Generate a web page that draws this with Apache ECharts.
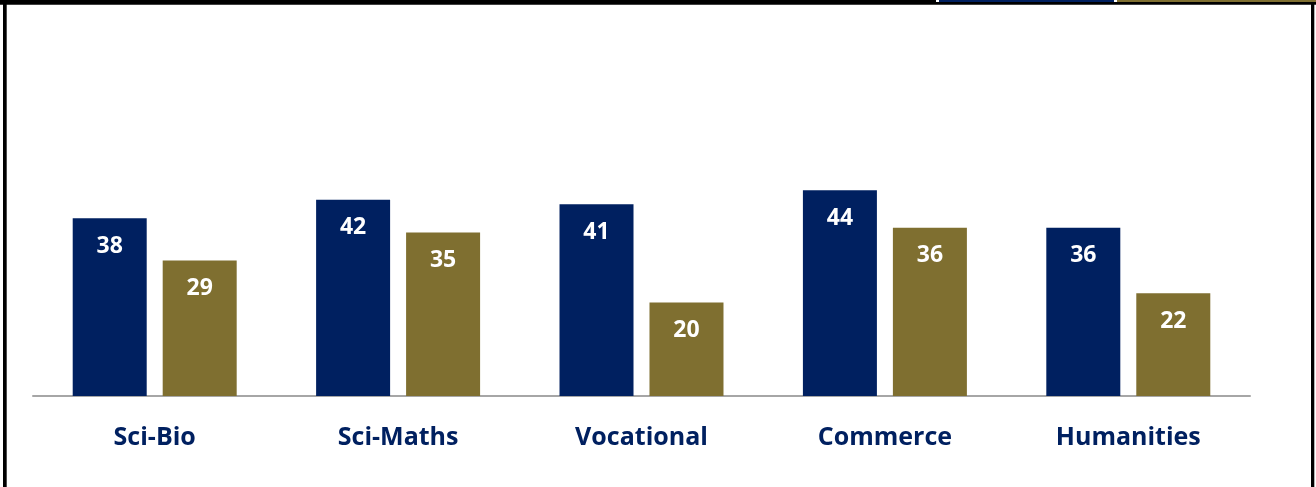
<!DOCTYPE html>
<html>
<head>
<meta charset="utf-8">
<script src="https://cdn.jsdelivr.net/npm/echarts@6/dist/echarts.min.js"></script>
<style>
html,body{margin:0;padding:0;background:#fff;}
#chart{width:1316px;height:487px;}
</style>
</head>
<body>
<div id="chart"></div>
<script>
const categories = ['Sci-Bio', 'Sci-Maths', 'Vocational', 'Commerce', 'Humanities'];
const seriesA = [38, 42, 41, 44, 36];
const seriesB = [29, 35, 20, 36, 22];
const navy = '#002060';
const gold = '#7F6F30';
const fontFam = '"Open Sans", Lato, sans-serif';

const chart = echarts.init(document.getElementById('chart'), null, {renderer: 'canvas'});
const labelStyle = {
  show: true,
  position: 'insideTop',
  distance: 16,
  color: '#ffffff',
  fontFamily: fontFam,
  fontWeight: 'bold',
  fontSize: 23,
  lineHeight: 24
};
chart.setOption({
  animation: false,
  backgroundColor: '#ffffff',
  grid: {left: 33, right: 66, top: 22, bottom: 91, containLabel: false},
  xAxis: {
    type: 'category',
    data: categories,
    axisLine: {show: true, lineStyle: {color: '#A6A6A6', width: 2}},
    axisTick: {show: false},
    axisLabel: {
      color: navy, fontFamily: fontFam, fontWeight: 'bold', fontSize: 25,
      lineHeight: 24, margin: 30
    }
  },
  yAxis: {
    type: 'value', min: 0, max: 80, interval: 10,
    show: false, splitLine: {show: false}
  },
  series: [
    {type: 'bar', name: 'A', data: seriesA, barWidth: 74, barGap: '21.6%',
     itemStyle: {color: navy}, label: labelStyle},
    {type: 'bar', name: 'B', data: seriesB, barWidth: 74,
     itemStyle: {color: gold}, label: labelStyle}
  ],
  graphic: [
    {type: 'rect', shape: {x: 0, y: 0, width: 936, height: 4.7}, style: {fill: '#000'}},
    {type: 'rect', shape: {x: 936, y: 2, width: 380, height: 2.7}, style: {fill: '#000'}},
    {type: 'rect', shape: {x: 939, y: 0, width: 175, height: 2}, style: {fill: navy}},
    {type: 'rect', shape: {x: 1117, y: 0, width: 199, height: 2}, style: {fill: gold}},
    {type: 'rect', shape: {x: 3, y: 0, width: 3.7, height: 487}, style: {fill: '#000'}},
    {type: 'rect', shape: {x: 1311, y: 2, width: 3.3, height: 485}, style: {fill: '#000'}}
  ]
});
</script>
</body>
</html>
